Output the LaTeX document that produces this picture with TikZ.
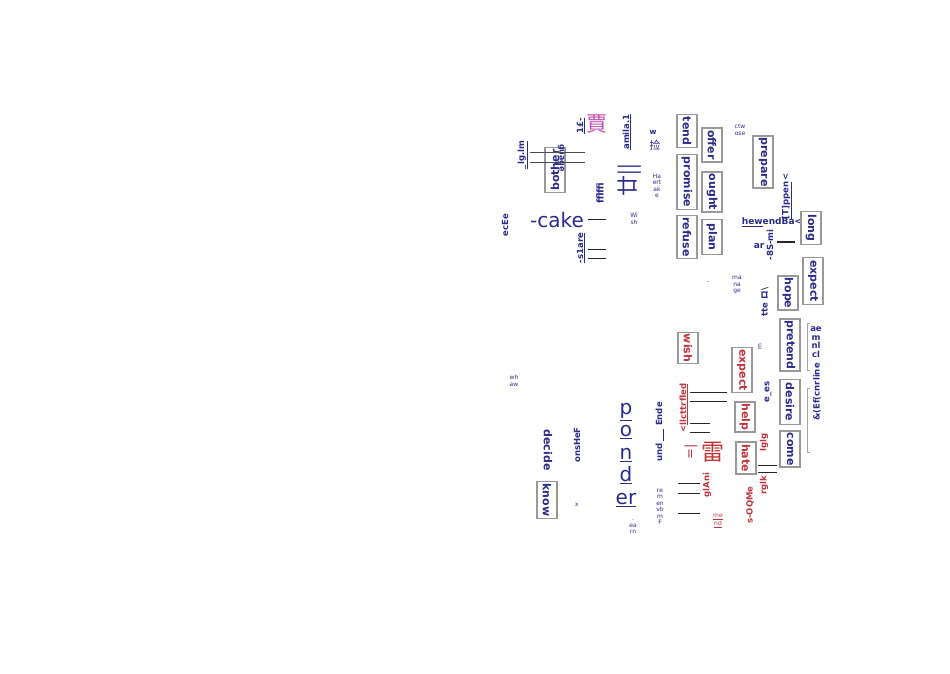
\documentclass[tikz,border=0pt]{standalone}
\usepackage{fontspec}
\setmainfont{DejaVu Sans}
\newfontfamily\cjk{Noto Sans CJK SC}
\usetikzlibrary{positioning}
\definecolor{ink}{HTML}{2B2B8C}
\definecolor{redink}{HTML}{C0343C}
\definecolor{kanji}{HTML}{C050B0}

\begin{document}
\begin{tikzpicture}[
    x=1pt, y=-1pt,
    word/.style={font=\bfseries\fontsize{11}{12}\selectfont, text=ink, rotate=-90, inner sep=1.5pt},
    wbox/.style={word, draw=gray!80, line width=1.3pt, minimum height=20pt, inner sep=1.5pt},
    rword/.style={word, text=redink},
    rbox/.style={wbox, text=redink},
    tag/.style={font=\bfseries\fontsize{8.5}{9}\selectfont, text=ink, rotate=90, inner sep=1pt},
    rtag/.style={tag, text=redink},
    note/.style={font=\fontsize{6}{6.5}\selectfont, text=ink, align=center, inner sep=0pt},
    big/.style={font=\fontsize{19}{21}\selectfont, text=ink, inner sep=0pt},
    rule/.style={draw=gray!30!black, line width=1pt}
]
\useasboundingbox (0,0) rectangle (950,673);

% left column of loose words
\node[tag] (ecee) at (505,225) {ecEe};
\node[tag] (lglm) at (523,155) {\underline{\_lg.lm}};
\node[wbox, rotate=180, minimum width=40pt, minimum height=20pt] (bother) at (555,170) {bother};
\node[tag, font=\bfseries\fontsize{8}{9}\selectfont, rotate=180] (guage) at (561,158) {guage};
\coordinate (botherA) at (530,152);
\coordinate (botherB) at (585,152);
\coordinate (botherC) at (530,162);
\coordinate (botherD) at (585,162);
\draw[rule, gray!60!black] (botherA) -- (botherB);
\draw[rule, gray!60!black] (botherC) -- (botherD);
\node[tag] (pound) at (581,126) {\underline{1£-}};
\node[big, text=kanji, font=\cjk\fontsize{21}{22}\selectfont] (jia) at (597,124) {賈};
\node[tag] (amila) at (627,132) {\underline{amila.1}};
\node[tag, font=\bfseries\fontsize{9.5}{10}\selectfont] (ffi) at (600,193) {fflffi};
\node[big, rotate=90, font=\cjk\fontsize{21}{22}\selectfont] (nian) at (630,180) {廿||};
\node[big, anchor=east, font=\fontsize{20}{22}\selectfont] (cake) at (584,220) {-cake};
\coordinate (cakeA) at (588,219);
\coordinate (cakeB) at (606,219);
\draw[rule] (cakeA) -- (cakeB);
\node[tag] (share) at (581,248) {\underline{-s1are}};
\coordinate (shareA) at (588,249);
\coordinate (shareB) at (606,249);
\coordinate (shareC) at (588,258);
\coordinate (shareD) at (606,258);
\draw[rule] (shareA) -- (shareB);
\draw[rule] (shareC) -- (shareD);
\node[note] (wish) at (634,219) {Wi\\sh};
\node[note, font=\bfseries\fontsize{7.5}{8}\selectfont] (w) at (653,132) {w};
\node[note, font=\cjk\fontsize{11}{12}\selectfont] (jian) at (655,145) {捡};
\node[note] (heartake) at (657,186) {Ha\\ert\\ak\\e};
\node[note] (whaw) at (514,381) {wh\\aw};

% blue boxes, upper block
\node[wbox, minimum width=33pt] (tend) at (687,131) {tend};
\node[wbox, minimum width=55pt] (promise) at (687,182) {promise};
\node[wbox, minimum width=42pt] (refuse) at (687,237) {refuse};
\node[wbox, minimum width=34pt] (offer) at (712,145) {offer};
\node[wbox, minimum width=40pt] (ought) at (712,192) {ought};
\node[wbox, minimum width=35pt] (plan) at (712,237) {plan};
\node[note] (choose) at (740,130) {ctw\\ose};
\node[wbox, minimum width=52pt] (prepare) at (763,162) {prepare};
\node[tag] (happen) at (787,196) {\underline{[T]ppen}\,\textless};
\node[font=\bfseries\fontsize{9}{9}\selectfont, text=ink, inner sep=0pt] (hewend) at (772,222) {\underline{hew}endBa\textless};
\node[wbox, minimum width=33pt] (long) at (811,228) {long};
\node[font=\bfseries\fontsize{9}{9}\selectfont, text=ink, inner sep=0pt] (ar) at (759,246) {ar};
\node[tag] (mi) at (770,245) {-8S-mi};
\coordinate (miA) at (777,242);
\coordinate (miB) at (795,242);
\draw[rule, line width=1.4pt] (miA) -- (miB);
\node[wbox, minimum width=47pt] (expectB) at (813,281) {expect};
\node[wbox, minimum width=34pt] (hope) at (788,293) {hope};
\node[note] (manage) at (737,285) {ma\\na\\ge};
\node[tag] (tte) at (765,302) {tte {\cjk ロ}\textbackslash};
\node[note] (dash) at (708,283) {-};
\node[wbox, minimum width=49pt] (pretend) at (790,345) {pretend};
\node[font=\bfseries\fontsize{8.5}{8.5}\selectfont, text=ink, align=center, inner sep=0pt] (aemnl) at (816,342) {ae\\m\\nl\\cl};
\coordinate (brA) at (810,323);
\coordinate (brB) at (807,323);
\coordinate (brC) at (807,370);
\coordinate (brD) at (810,370);
\draw[gray!70, line width=1pt] (brA) -- (brB) -- (brC) -- (brD);
\node[tag] (cnrline) at (817,392) {\&(Ef(cnrline};
\coordinate (brE) at (810,388);
\coordinate (brF) at (807,388);
\coordinate (brG) at (807,452);
\coordinate (brH) at (810,452);
\draw[gray!70, line width=1pt] (brE) -- (brF) -- (brG) -- (brH);
\node[wbox, minimum width=45pt] (desire) at (790,402) {desire};
\node[wbox, minimum width=35pt] (come) at (790,449) {come};
\node[note, rotate=90] (m) at (760,347) {m};
\node[tag] (ees) at (768,392) {e\_es};

% red block
\node[rbox, minimum width=25pt] (wishR) at (688,348) {wish};
\node[rbox, minimum width=44pt] (expectR) at (742,370) {expect};
\node[rbox, minimum width=30pt] (help) at (745,417) {help};
\node[rbox, minimum width=32pt] (hate) at (746,458) {hate};
\node[rtag] (lglg) at (764,442) {lglg};
\node[rtag] (rglk) at (764,485) {rglk};
\coordinate (hateA) at (758,465);
\coordinate (hateB) at (777,465);
\coordinate (hateC) at (758,472);
\coordinate (hateD) at (777,472);
\draw[rule] (hateA) -- (hateB);
\draw[rule] (hateC) -- (hateD);
\node[rtag] (sqme) at (750,505) {s-OQMe};
\node[rtag] (trfled) at (684,408) {\textless\underline{llcttrfled}};
\coordinate (trA) at (690,392);
\coordinate (trB) at (727,392);
\coordinate (trC) at (690,401);
\coordinate (trD) at (727,401);
\coordinate (trE) at (690,423);
\coordinate (trF) at (710,423);
\coordinate (trG) at (690,432);
\coordinate (trH) at (710,432);
\draw[rule] (trA) -- (trB);
\draw[rule] (trC) -- (trD);
\draw[rule] (trE) -- (trF);
\draw[rule] (trG) -- (trH);
\node[rtag, font=\fontsize{13}{13}\selectfont] (eq) at (691,452) {=|};
\node[big, text=redink, font=\cjk\fontsize{23}{24}\selectfont] (lei) at (713,452) {雷};
\node[rtag] (glani) at (707,485) {glAni};
\node[note, text=redink] (mend) at (718,521) {\underline{me}\\\underline{nd}};
\coordinate (lfA) at (678,483);
\coordinate (lfB) at (700,483);
\coordinate (lfC) at (678,493);
\coordinate (lfD) at (700,493);
\coordinate (lfE) at (678,513);
\coordinate (lfF) at (700,513);
\draw[rule] (lfA) -- (lfB);
\draw[rule] (lfC) -- (lfD);
\draw[rule] (lfE) -- (lfF);

% lower left words
\node[note] (remen) at (660,507) {re\\m\\en\\vb\\m\\F};
\node[tag] (ende) at (660,432) {und \underline{\ \ \ \ } Ende};
\node[big, align=center, font=\fontsize{20}{22.5}\selectfont] (ponder) at (626,455) {\underline{p}\\\underline{o}\\\underline{n}\\\underline{d}\\\underline{er}};
\node[note] (earn) at (633,527) {.\\ea\\rn};
\node[tag] (onshef) at (577,445) {onsHeF};
\node[note] (x) at (577,505) {x};
\node[word] (decide) at (548,450) {decide};
\node[wbox, minimum width=37pt] (know) at (547,500) {know};
\end{tikzpicture}
\end{document}
